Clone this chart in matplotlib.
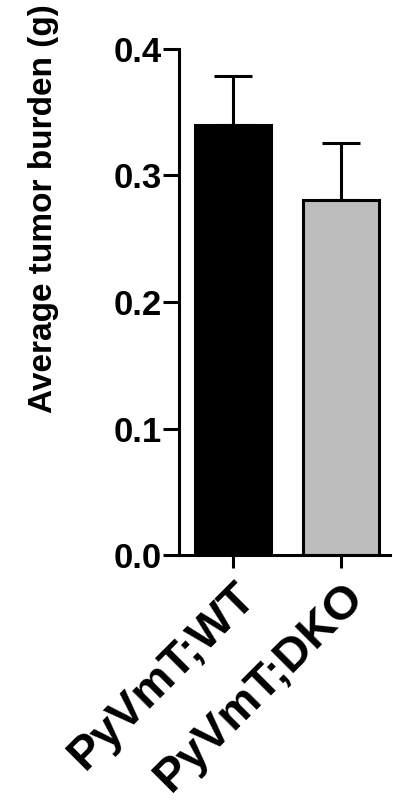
import matplotlib
matplotlib.use("Agg")
import matplotlib.pyplot as plt
from matplotlib import font_manager

# Values
groups = ["PyVmT;WT", "PyVmT;DKO"]
means = [0.340, 0.281]
sem = [0.039, 0.045]
colors = ["black", "#bdbdbd"]
yticks = [0.0, 0.1, 0.2, 0.3, 0.4]

plt.rcParams["font.family"] = ["Liberation Sans", "DejaVu Sans"]
plt.rcParams["font.weight"] = "bold"

# the y label in the original is tall and narrow; use the narrow face if it is there
names = {f.name for f in font_manager.fontManager.ttflist}
if "Liberation Sans Narrow" in names:
    ylab_family, ylab_size = "Liberation Sans Narrow", 29
else:
    ylab_family, ylab_size = "Liberation Sans", 24
print("ylabel font:", ylab_family)

fig = plt.figure(figsize=(3.93, 8.08), dpi=100)
ax = fig.add_axes([0.4555, 0.3131, 0.5365, 0.6263])

x = list(range(len(groups)))
ax.bar(x, means, width=0.7, color=colors, edgecolor="black", linewidth=2.2, zorder=2)
# upper error bars only, like the original
ax.errorbar(x, means, yerr=[[0] * len(sem), sem], fmt="none", ecolor="black",
            elinewidth=2.2, capsize=14, capthick=2.2, zorder=1)

ax.set_xlim(-0.5, 1.45)
ax.set_ylim(0, 0.4)
ax.set_yticks(yticks)
ax.set_yticklabels([f"{v:.1f}" for v in yticks], fontsize=25, fontweight="bold")
ax.set_xticks(x)
ax.set_xticklabels(groups, rotation=45, ha="right", rotation_mode="anchor",
                   fontsize=34, fontweight="bold")
ax.set_ylabel("Average tumor burden (g)", fontsize=ylab_size, fontweight="bold",
              family=ylab_family)
ax.yaxis.set_label_coords(-0.57, 0.685)

for side in ["top", "right"]:
    ax.spines[side].set_visible(False)
for side in ["left", "bottom"]:
    ax.spines[side].set_linewidth(2.2)
ax.tick_params(axis="y", length=11.5, width=2.2, pad=1)
ax.tick_params(axis="x", length=9, width=2.2, pad=5)

fig.savefig("out.png", dpi=100)
